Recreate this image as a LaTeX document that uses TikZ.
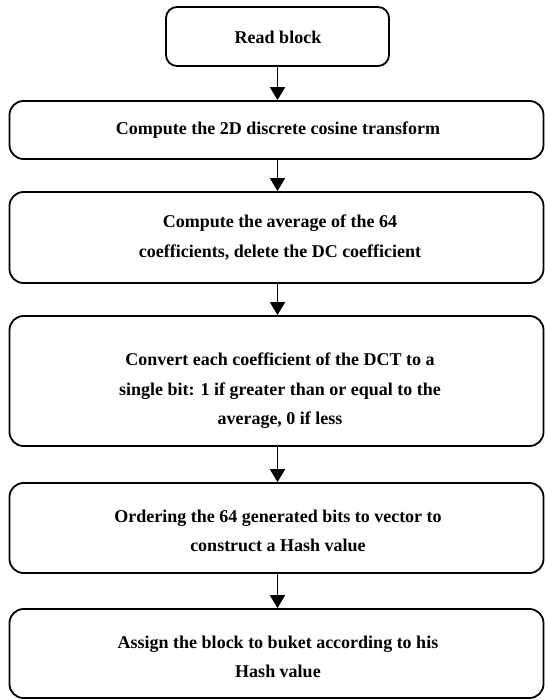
\documentclass[tikz,border=0pt]{standalone}
\usepackage{fontspec}
\setmainfont{Liberation Serif}
\usetikzlibrary{arrows.meta}
\begin{document}
\begin{tikzpicture}[x=1pt,y=-1pt,
  box/.style={draw, line width=1.8pt, rounded corners=14pt, inner sep=0pt, minimum width=534pt},
  txt/.style={align=center, inner sep=0pt, font=\bfseries\fontsize{18}{29.5}\selectfont},
  arr/.style={line width=1.8pt, -{Triangle[width=15pt,length=13pt]}}]
\useasboundingbox (0,0) rectangle (544,700);
\node[box, minimum width=223pt, minimum height=59pt, rounded corners=11pt] (b1) at (277.5,36.5) {};
\node[box, minimum height=58pt] (b2) at (276.5,130) {};
\node[box, minimum height=91pt] (b3) at (276.5,237.5) {};
\node[box, minimum height=130pt] (b4) at (276.5,381) {};
\node[box, minimum height=90pt] (b5) at (276.5,528) {};
\node[box, minimum height=89pt] (b6) at (276.5,653.5) {};
\node[txt] (t1) at (278,37.5) {Read block};
\node[txt] (t2) at (278,130) {Compute the 2D discrete cosine transform};
\node[txt] (t3) at (280,237.5) {Compute the average of the 64\\coefficients, delete the DC coefficient};
\node[txt] (t4) at (280,391) {Convert each coefficient of the DCT to a\\single bit: 1 if greater than or equal to the\\average, 0 if less};
\node[txt] (t5) at (278,531) {Ordering the 64 generated bits to vector to\\construct a Hash value};
\node[txt] (t6) at (278,657) {Assign the block to buket according to his\\Hash value};
\draw[arr] (b1.south) -- (b1.south |- b2.north);
\draw[arr] (b1.south |- b2.south) -- (b1.south |- b3.north);
\draw[arr] (b1.south |- b3.south) -- (b1.south |- b4.north);
\draw[arr] (b1.south |- b4.south) -- (b1.south |- b5.north);
\draw[arr] (b1.south |- b5.south) -- (b1.south |- b6.north);
\end{tikzpicture}
\end{document}
